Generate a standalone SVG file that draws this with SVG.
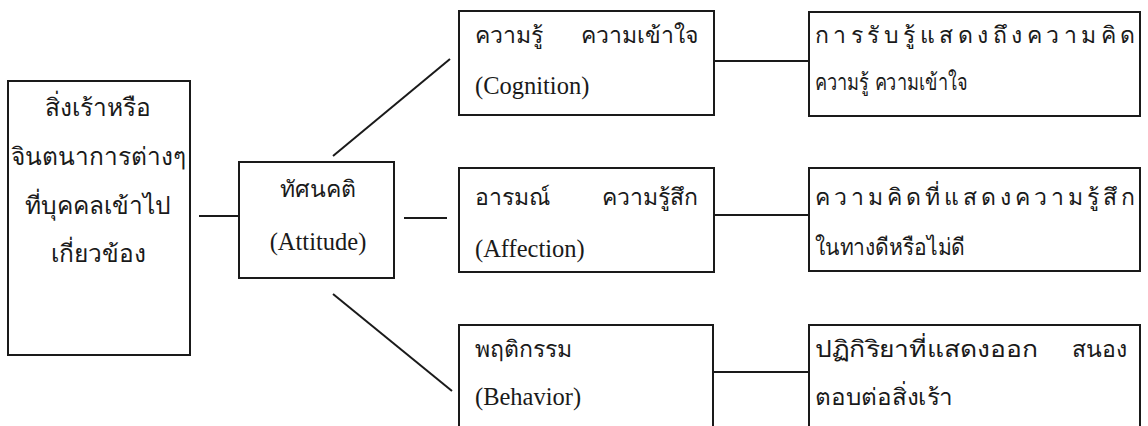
<svg xmlns="http://www.w3.org/2000/svg" width="1148" height="426" viewBox="0 0 1148 426">
<style>
.box{fill:#fff;stroke:#1a1a1a;stroke-width:2}
.ln{stroke:#1a1a1a;stroke-width:2;fill:none}
.th{font-family:"DejaVu Sans","Noto Sans",sans-serif;font-size:23px;fill:#1a1a1a}
.big{font-size:24.5px}
.en{font-family:"Liberation Serif",serif;font-size:24.5px;fill:#1a1a1a}
.c{text-anchor:middle}
</style>
<rect width="1148" height="426" fill="#fff"/>
<g id="connectors">
<line class="ln" x1="199" y1="216" x2="239" y2="216"/>
<line class="ln" x1="404" y1="218" x2="447" y2="218"/>
<line class="ln" x1="333" y1="156" x2="450" y2="59"/>
<line class="ln" x1="333" y1="294" x2="452" y2="391"/>
<line class="ln" x1="714" y1="61" x2="809" y2="61"/>
<line class="ln" x1="714" y1="215" x2="809" y2="215"/>
<line class="ln" x1="713" y1="372" x2="809" y2="372"/>
</g>
<g id="stimulus">
<rect class="box" x="8" y="81" width="182" height="274"/>
<text class="th big c" x="98" y="116">สิ่งเร้าหรือ</text>
<text class="th big c" x="98" y="165">จินตนาการต่างๆ</text>
<text class="th big c" x="98" y="214">ที่บุคคลเข้าไป</text>
<text class="th big c" x="98" y="262">เกี่ยวข้อง</text>
</g>
<g id="attitude">
<rect class="box" x="239" y="162" width="155" height="116"/>
<text class="th c" x="318" y="197">ทัศนคติ</text>
<text class="en c" x="318" y="250">(Attitude)</text>
</g>
<g id="cognition">
<rect class="box" x="459" y="11" width="255" height="104"/>
<text class="th" x="475" y="43">ความรู้</text>
<text class="th" x="698" y="43" text-anchor="end">ความเข้าใจ</text>
<text class="en" x="475" y="94">(Cognition)</text>
</g>
<g id="cognition-desc">
<rect class="box" x="809" y="12" width="331" height="104"/>
<text class="th" x="815" y="43" textLength="320" lengthAdjust="spacing">การรับรู้แสดงถึงความคิด</text>
<text class="th" x="815" y="90" textLength="152" lengthAdjust="spacingAndGlyphs">ความรู้ ความเข้าใจ</text>
</g>
<g id="affection">
<rect class="box" x="459" y="168" width="255" height="104"/>
<text class="th" x="475" y="205">อารมณ์</text>
<text class="th" x="698" y="205" text-anchor="end">ความรู้สึก</text>
<text class="en" x="475" y="257">(Affection)</text>
</g>
<g id="affection-desc">
<rect class="box" x="809" y="168" width="331" height="103"/>
<text class="th" x="815" y="205" textLength="320" lengthAdjust="spacing">ความคิดที่แสดงความรู้สึก</text>
<text class="th" x="815" y="255" textLength="150" lengthAdjust="spacingAndGlyphs">ในทางดีหรือไม่ดี</text>
</g>
<g id="behavior">
<rect class="box" x="459" y="325" width="254" height="120"/>
<text class="th" x="475" y="357">พฤติกรรม</text>
<text class="en" x="475" y="405">(Behavior)</text>
</g>
<g id="behavior-desc">
<rect class="box" x="809" y="325" width="331" height="120"/>
<text class="th" x="815" y="357" textLength="223" lengthAdjust="spacingAndGlyphs">ปฏิกิริยาที่แสดงออก</text>
<text class="th" x="1127" y="357" text-anchor="end">สนอง</text>
<text class="th" x="815" y="405" textLength="138" lengthAdjust="spacingAndGlyphs">ตอบต่อสิ่งเร้า</text>
</g>
</svg>
